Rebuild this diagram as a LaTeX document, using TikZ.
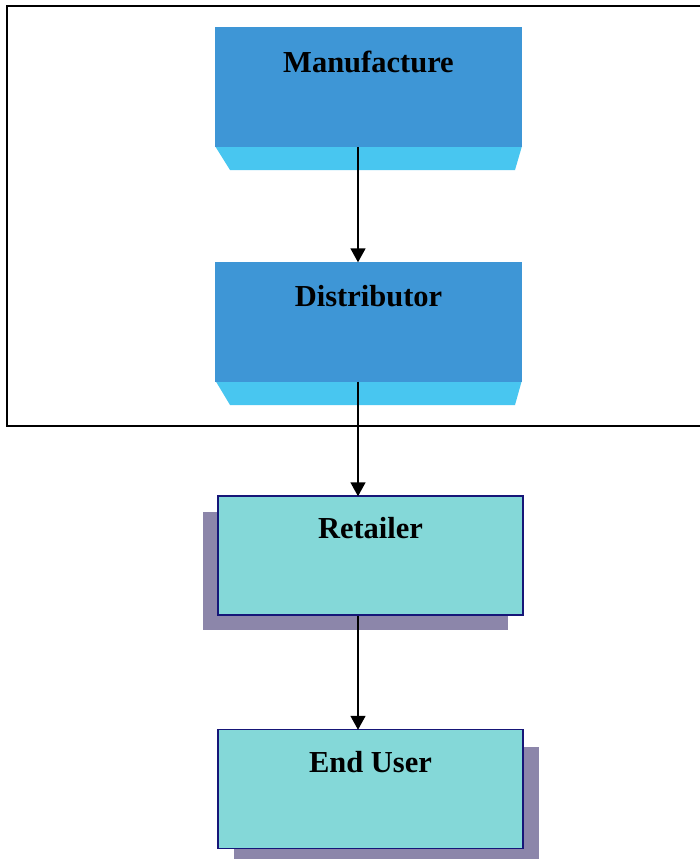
\documentclass[tikz,border=0pt]{standalone}
\usepackage{fontspec}
\setmainfont{Liberation Serif}
\usetikzlibrary{arrows.meta}
\definecolor{frontblue}{RGB}{62,150,214}
\definecolor{bevelblue}{RGB}{72,198,240}
\definecolor{tealfill}{RGB}{132,216,216}
\definecolor{tealborder}{RGB}{22,22,120}
\definecolor{shadowcol}{RGB}{140,134,170}
\tikzset{
  frontbox/.style={draw=none, fill=frontblue, minimum width=307pt, minimum height=120pt, inner sep=0pt},
  bevelface/.style={fill=bevelblue, draw=none},
  tealbox/.style={draw=tealborder, line width=1.5pt, fill=tealfill, minimum width=305pt, minimum height=119pt, inner sep=0pt},
  shadowbox/.style={fill=shadowcol, draw=none, minimum width=305pt, minimum height=118pt, inner sep=0pt},
  lbl/.style={font=\bfseries\fontsize{30.5}{33}\selectfont, text=black, inner sep=0pt},
  flow/.style={-{Triangle[length=14pt,width=15pt]}, line width=1.6pt, black, shorten >=-1pt},
  framepen/.style={line width=1.6pt, black}
}
\begin{document}
\begin{tikzpicture}[x=1pt,y=-1pt]
\useasboundingbox (0,0) rectangle (700,859);
\fill[white] (0,0) rectangle (700,859);
% frame
\draw[framepen] (700,6) -- (7,6) -- (7,426) -- (700,426);
% Manufacture
\fill[bevelface] (215,146) -- (522,146) -- (515,170) -- (230,170) -- cycle;
\node[frontbox] (man) at (368.5,87) {};
\node[lbl] (manT) at (368.5,62) {Manufacture};
% Distributor
\fill[bevelface] (215,380) -- (522,380) -- (515,405) -- (230,405) -- cycle;
\node[frontbox] (dis) at (368.5,321.5) {};
\node[lbl] (disT) at (368.5,296) {Distributor};
% Retailer
\node[shadowbox] (retS) at (355.5,571) {};
\node[tealbox] (ret) at (370.5,555.5) {};
\node[lbl] (retT) at (370.5,528) {Retailer};
% End User
\node[shadowbox] (endS) at (386,806) {};
\node[tealbox] (end) at (370.5,789) {};
\node[lbl] (endT) at (370.5,762) {End User};
% arrows
\draw[flow] ([xshift=-10.5pt]man.south) -- ([xshift=-10.5pt]dis.north);
\draw[flow] ([xshift=-10.5pt]dis.south) -- ([xshift=-12.5pt]ret.north);
\draw[flow] ([xshift=-12.5pt]ret.south) -- ([xshift=-12.5pt]end.north);
\end{tikzpicture}
\end{document}
